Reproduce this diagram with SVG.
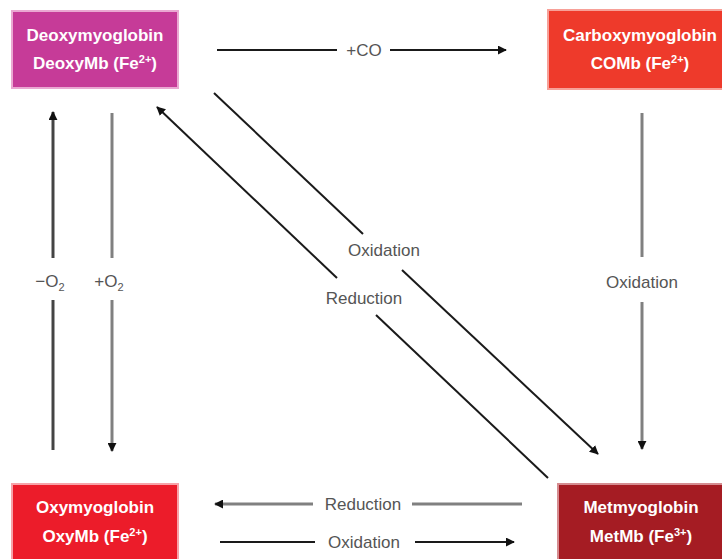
<svg xmlns="http://www.w3.org/2000/svg" width="722" height="559" viewBox="0 0 722 559">
<style>
.box{stroke-width:2}
.nt{font-family:"Liberation Sans",Arial,sans-serif;font-weight:bold;font-size:17px;fill:#fff;text-anchor:middle}
.lb{font-family:"Liberation Sans",Arial,sans-serif;font-size:17px;fill:#555;text-anchor:middle}
.sup{font-size:11px}
.k{stroke:#1a1a1a;stroke-width:2;fill:none}
.g{stroke:#808080;stroke-width:3;fill:none}
.d{stroke:#444;stroke-width:3;fill:none}
</style>
<defs>
<marker id="ah" viewBox="0 0 10 10" refX="9" refY="5" markerWidth="9" markerHeight="9" markerUnits="userSpaceOnUse" orient="auto">
<path d="M0,0 L10,5 L0,10 z" fill="#111"/>
</marker>
</defs>
<rect width="722" height="559" fill="#fff"/>
<g id="deoxy">
<rect class="box" x="12" y="11" width="166" height="77" fill="#c63b98" stroke="#eaa8d2"/>
<text class="nt" x="95" y="41">Deoxymyoglobin</text>
<text class="nt" x="95" y="69">DeoxyMb (Fe<tspan class="sup" dy="-6">2+</tspan><tspan dy="6">)</tspan></text>
</g>
<g id="carboxy">
<rect class="box" x="548" y="10" width="190" height="79" fill="#ee3a2b" stroke="#f7a098"/>
<text class="nt" x="640" y="41">Carboxymyoglobin</text>
<text class="nt" x="640" y="69">COMb (Fe<tspan class="sup" dy="-6">2+</tspan><tspan dy="6">)</tspan></text>
</g>
<g id="oxy">
<rect class="box" x="12" y="484" width="166" height="80" fill="#ec1c2a" stroke="#f7a2a8"/>
<text class="nt" x="95" y="513">Oxymyoglobin</text>
<text class="nt" x="95" y="542">OxyMb (Fe<tspan class="sup" dy="-6">2+</tspan><tspan dy="6">)</tspan></text>
</g>
<g id="met">
<rect class="box" x="558" y="484" width="170" height="80" fill="#a51c23" stroke="#d58c90"/>
<text class="nt" x="641" y="513">Metmyoglobin</text>
<text class="nt" x="641" y="542">MetMb (Fe<tspan class="sup" dy="-6">3+</tspan><tspan dy="6">)</tspan></text>
</g>
<g id="connectors">
<!-- +CO -->
<line class="k" x1="217" y1="50" x2="337" y2="50"/>
<line class="k" x1="390" y1="50" x2="506" y2="50" marker-end="url(#ah)"/>
<text class="lb" x="364" y="56">+CO</text>
<!-- Carboxy -> Met oxidation -->
<line class="g" x1="642" y1="113" x2="642" y2="257"/>
<line class="g" x1="642" y1="302" x2="642" y2="449" marker-end="url(#ah)"/>
<text class="lb" x="642" y="288">Oxidation</text>
<!-- -O2 up -->
<line class="d" x1="53" y1="450" x2="53" y2="300"/>
<line class="d" x1="53" y1="258" x2="53" y2="112" marker-end="url(#ah)"/>
<text class="lb" x="50" y="287">−O<tspan class="sup" dy="4">2</tspan></text>
<!-- +O2 down -->
<line class="g" x1="112" y1="113" x2="112" y2="258"/>
<line class="g" x1="112" y1="300" x2="112" y2="451" marker-end="url(#ah)"/>
<text class="lb" x="109" y="287">+O<tspan class="sup" dy="4">2</tspan></text>
<!-- diagonal oxidation -->
<line class="k" x1="214" y1="93" x2="363" y2="234"/>
<line class="k" x1="402" y1="270" x2="598" y2="454" marker-end="url(#ah)"/>
<text class="lb" x="384" y="256">Oxidation</text>
<!-- diagonal reduction -->
<line class="k" x1="548" y1="478" x2="376" y2="315"/>
<line class="k" x1="337" y1="278" x2="157" y2="107" marker-end="url(#ah)"/>
<text class="lb" x="364" y="304">Reduction</text>
<!-- bottom reduction -->
<line class="g" x1="522" y1="504" x2="412" y2="504"/>
<line class="g" x1="313" y1="504" x2="215" y2="504" marker-end="url(#ah)"/>
<text class="lb" x="363" y="510">Reduction</text>
<!-- bottom oxidation -->
<line class="k" x1="220" y1="542" x2="315" y2="542"/>
<line class="k" x1="415" y1="542" x2="514" y2="542" marker-end="url(#ah)"/>
<text class="lb" x="364" y="548">Oxidation</text>
</g>
</svg>
